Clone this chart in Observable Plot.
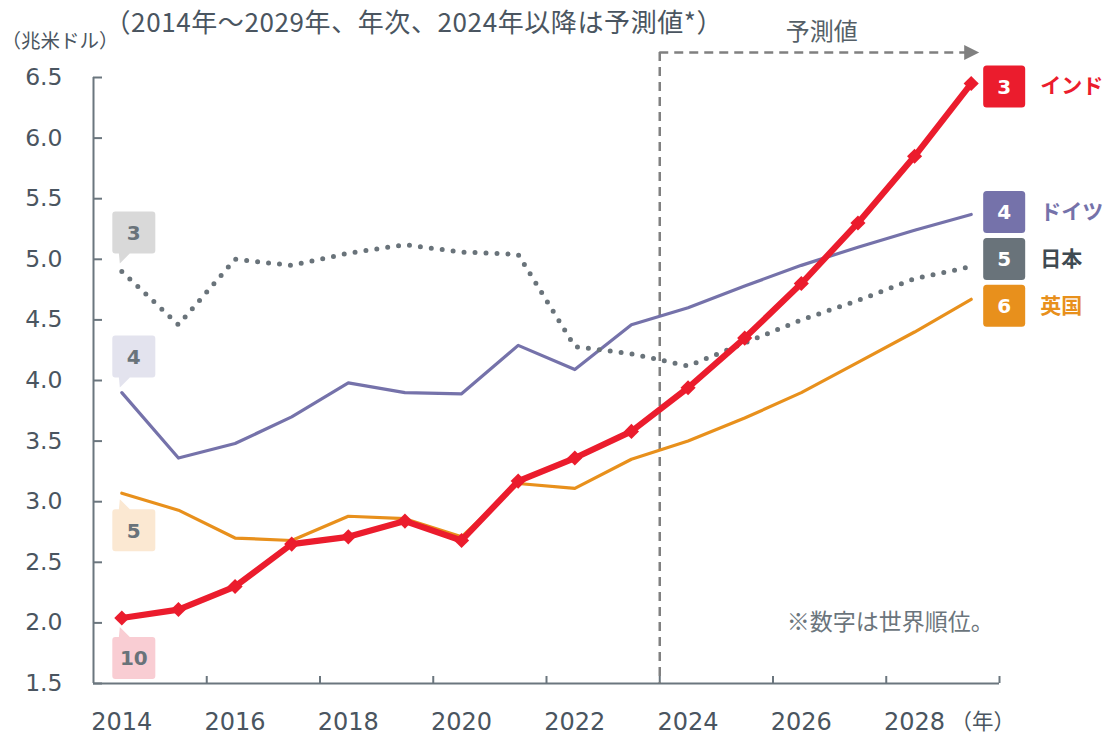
<!DOCTYPE html>
<html><head><meta charset="utf-8">
<script src="https://cdn.jsdelivr.net/npm/d3@7"></script>
<script src="https://cdn.jsdelivr.net/npm/@observablehq/plot@0.6"></script>
<style>
body{margin:0;background:#fff;}
#chart svg{display:block;background:#fff;}
</style>
</head><body><div id="chart"></div>
<script>
// ---- data ----
const years   = [2014,2015,2016,2017,2018,2019,2020,2021,2022,2023,2024,2025,2026,2027,2028,2029];
const india   = [2.04,2.11,2.30,2.65,2.71,2.84,2.68,3.17,3.36,3.58,3.94,4.35,4.80,5.30,5.85,6.45];
const germany = [3.90,3.36,3.48,3.70,3.98,3.90,3.89,4.29,4.09,4.46,4.60,4.78,4.95,5.10,5.24,5.37];
const japan   = [4.90,4.46,5.00,4.95,5.05,5.12,5.06,5.04,4.28,4.22,4.12,4.31,4.50,4.66,4.84,4.94];
const uk      = [3.07,2.93,2.70,2.68,2.88,2.86,2.71,3.15,3.11,3.35,3.50,3.69,3.90,4.15,4.40,4.67];
const names   = ["インド","ドイツ","日本","英国"];
const rank2014 = ["10","4","3","5"];
const rank2029 = ["3","4","5","6"];
const yTicks  = [1.5,2.0,2.5,3.0,3.5,4.0,4.5,5.0,5.5,6.0,6.5];
const xLabels = [2014,2016,2018,2020,2022,2024,2026,2028];
const forecastStart = 2024;
const subtitle = "（2014年～2029年、年次、2024年以降は予測値*）";
const unitLabel = "（兆米ドル）";
const yearLabel = "（年）";
const forecastLabel = "予測値";
const note = "※数字は世界順位。";

// ---- styles / layout ----
const colors = {"インド":"#EB1C2D","ドイツ":"#7572AA","日本":"#69737A","英国":"#E8901C"};
const lightFill = {"インド":"#F9CDD3","ドイツ":"#E3E3EE","日本":"#D9D9D9","英国":"#FBE8D2"};
const nameColor = {"インド":"#EB1C2D","ドイツ":"#7572AA","日本":"#3F4A52","英国":"#E8901C"};
const leftDy  = {"インド":40,"ドイツ":-36,"日本":-39,"英国":37};
const rightDy = {"インド":3,"ドイツ":-2.5,"日本":-7.5,"英国":6.5};
const AXIS = "#6B767E", TEXT = "#4A5560";
const NUMFONT = "'DejaVu Sans', Verdana, sans-serif";
const JPFONT = "'Noto Sans CJK JP', 'Noto Sans', sans-serif";

const valuesBy = {"インド":india,"ドイツ":germany,"日本":japan,"英国":uk};
const rows = names.flatMap(n => years.map((yr,i)=>({name:n, year:yr, value:valuesBy[n][i]})));
const first = n => ({name:n, year:years[0], value:valuesBy[n][0]});
const last  = n => ({name:n, year:years[years.length-1], value:valuesBy[n][years.length-1]});

function roundRect(ctx, x0, y0, x1, y1, r) {
  ctx.moveTo(x0 + r, y0); ctx.lineTo(x1 - r, y0); ctx.arcTo(x1, y0, x1, y0 + r, r);
  ctx.lineTo(x1, y1 - r); ctx.arcTo(x1, y1, x1 - r, y1, r);
  ctx.lineTo(x0 + r, y1); ctx.arcTo(x0, y1, x0, y1 - r, r);
  ctx.lineTo(x0, y0 + r); ctx.arcTo(x0, y0, x0 + r, y0, r); ctx.closePath();
}
const calloutDown = {draw(ctx){ roundRect(ctx,-21.5,-21,21.5,21,3); ctx.moveTo(-3,20); ctx.lineTo(-14,31); ctx.lineTo(-15,20); ctx.closePath(); }};
const calloutUp   = {draw(ctx){ roundRect(ctx,-21.5,-21,21.5,21,3); ctx.moveTo(-15,-20); ctx.lineTo(-14,-31); ctx.lineTo(-3,-20); ctx.closePath(); }};
const square      = {draw(ctx){ roundRect(ctx,-21,-21,21,21,3.5); }};
const arrowHead   = {draw(ctx){ ctx.moveTo(8,0); ctx.lineTo(-7,-7.5); ctx.lineTo(-7,7.5); ctx.closePath(); }};

const W = 1105, H = 735, ML = 93, MR = 106, MT = 77, MB = 52;
const FW = W - ML - MR, FH = H - MT - MB;
const xMin = years[0] - 0.5, xMax = years[years.length-1] + 0.5;
const xTickMarks = d3.range(years[0] + 1.5, xMax + 0.01, 2);
const yTop = yTicks[yTicks.length-1], yBottom = yTicks[0];

const marks = [
  // axes lines and inward ticks
  Plot.ruleX([xMin], {stroke: AXIS, strokeWidth: 2}),
  Plot.ruleY([yBottom], {stroke: AXIS, strokeWidth: 2}),
  Plot.tickY(yTicks, {y: d=>d, insetRight: FW - 9, stroke: AXIS, strokeWidth: 2}),
  Plot.tickX(xTickMarks, {x: d=>d, insetTop: FH - 7, stroke: AXIS, strokeWidth: 2}),
  Plot.text(yTicks, {x: xMin, y: d=>d, text: d=>d.toFixed(1), textAnchor: "end", dx: -31, fontSize: 23.5, fill: TEXT, fontFamily: NUMFONT}),
  Plot.text(xLabels, {x: d=>d, y: yBottom, text: d=>String(d), dy: 39, fontSize: 24, fill: TEXT, fontFamily: NUMFONT}),
  Plot.text([yearLabel], {x: xMax, y: yBottom, text: d=>d, dx: -49, dy: 39, textAnchor: "start", fontSize: 21.5, fill: TEXT, fontFamily: JPFONT}),
  Plot.text([unitLabel], {x: xMin, y: yTop, text: d=>d, dx: -92, dy: -36, textAnchor: "start", fontSize: 19.5, fill: TEXT, fontFamily: JPFONT}),
  Plot.text([subtitle], {x: xMin, y: yTop, text: d=>d, dx: 11, dy: -54, textAnchor: "start", fontSize: 26, fill: TEXT, fontFamily: JPFONT}),
  // forecast marker
  Plot.ruleX([forecastStart - 0.5], {insetTop: -25, stroke: "#808080", strokeWidth: 2.5, strokeDasharray: "9 6"}),
  Plot.ruleY([yTop], {x1: forecastStart - 0.5, x2: years[years.length-1], dy: -25, stroke: "#808080", strokeWidth: 2.5, strokeDasharray: "9 6"}),
  Plot.dot([0], {x: years[years.length-1], y: yTop, dy: -25, r: 8, symbol: arrowHead, fill: "#808080", stroke: null}),
  Plot.text([forecastLabel], {x: forecastStart - 0.5, y: yTop, text: d=>d, dx: 126, dy: -45, textAnchor: "start", fontSize: 24, fill: "#555F67", fontFamily: JPFONT}),
  Plot.text([note], {x: forecastStart - 0.5, y: 2.0, text: d=>d, dx: 127, textAnchor: "start", fontSize: 23, fill: "#6B757C", fontFamily: JPFONT}),
  // series
  Plot.line(rows.filter(d=>d.name==="ドイツ"), {x:"year", y:"value", stroke: colors["ドイツ"], strokeWidth: 3.2}),
  Plot.line(rows.filter(d=>d.name==="英国"), {x:"year", y:"value", stroke: colors["英国"], strokeWidth: 3.2}),
  Plot.line(rows.filter(d=>d.name==="日本"), {x:"year", y:"value", stroke: colors["日本"], strokeWidth: 5, strokeDasharray: "0 11", strokeLinecap: "round"}),
  Plot.line(rows.filter(d=>d.name==="インド"), {x:"year", y:"value", stroke: colors["インド"], strokeWidth: 6.2}),
  Plot.dot(rows.filter(d=>d.name==="インド"), {x:"year", y:"value", symbol: "diamond2", r: 6.8, fill: colors["インド"], stroke: null}),
];

// left rank callouts (2014)
names.forEach((n,i) => {
  const d = first(n);
  const dy = leftDy[n];
  marks.push(Plot.dot([d], {x:"year", y:"value", dx: 12, dy, r: 10, symbol: dy < 0 ? calloutDown : calloutUp, fill: lightFill[n], stroke: null}));
  marks.push(Plot.text([d], {x:"year", y:"value", dx: 12, dy: dy + 1, text: () => rank2014[i], fontSize: 20, fontWeight: "bold", fill: "#69737A", fontFamily: NUMFONT}));
});
// right rank badges (2029)
names.forEach((n,i) => {
  const d = last(n);
  const dy = rightDy[n];
  marks.push(Plot.dot([d], {x:"year", y:"value", dx: 33, dy, r: 10, symbol: square, fill: colors[n], stroke: null}));
  marks.push(Plot.text([d], {x:"year", y:"value", dx: 33, dy: dy + 1, text: () => rank2029[i], fontSize: 20, fontWeight: "bold", fill: "#FFFFFF", fontFamily: NUMFONT}));
  marks.push(Plot.text([d], {x:"year", y:"value", dx: 69, dy, text: () => n, textAnchor: "start", fontSize: 21, fontWeight: "bold", fill: nameColor[n], fontFamily: JPFONT}));
});

const chart = Plot.plot({
  width: W, height: H,
  marginLeft: ML, marginRight: MR, marginTop: MT, marginBottom: MB,
  x: {type: "linear", domain: [xMin, xMax], axis: null},
  y: {domain: [yBottom, yTop], axis: null},
  style: {fontFamily: NUMFONT, background: "#fff", overflow: "visible"},
  marks
});
// slight tracking on the subtitle to match the reference width
d3.select(chart).selectAll("text").filter(function(){ return this.textContent === subtitle; }).style("letter-spacing", "0.6px");
document.getElementById("chart").appendChild(chart);
</script>
</body></html>
